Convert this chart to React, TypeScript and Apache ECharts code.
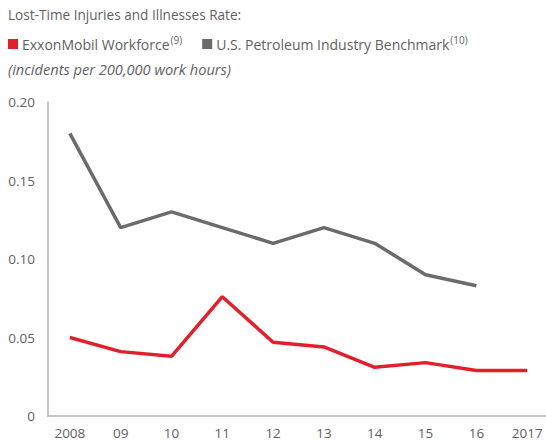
import React, { useEffect, useRef } from "react";
import * as echarts from "echarts";

const years = [2008, 2009, 2010, 2011, 2012, 2013, 2014, 2015, 2016, 2017];
const exxonValues = [0.05, 0.041, 0.038, 0.076, 0.047, 0.044, 0.031, 0.034, 0.029, 0.029];
const benchmarkValues = [0.18, 0.12, 0.13, 0.12, 0.11, 0.12, 0.11, 0.09, 0.083, null];
const yTicks = [0, 0.05, 0.1, 0.15, 0.2];
const seriesNames = ["ExxonMobil Workforce", "U.S. Petroleum Industry Benchmark"];
const seriesNotes = ["(9)", "(10)"];

const FONT = "'Open Sans', 'Noto Sans', sans-serif";
const TEXT = "#5f5f5f";

export default function App() {
  const ref = useRef<HTMLDivElement>(null);
  useEffect(() => {
    if (!ref.current) return;
    const chart = echarts.init(ref.current, null, { renderer: "svg" });
    const pair = (vals: (number | null)[]) =>
      years.map((y, i) => [y, vals[i]]).filter((p) => p[1] !== null);
    chart.setOption({
      animation: false,
      textStyle: { fontFamily: FONT },
      graphic: [
        {
          type: "text",
          left: 8,
          top: 7,
          style: { text: "Lost-Time Injuries and Illnesses Rate:", font: `13.6px ${FONT}`, fill: TEXT },
        },
        {
          type: "text",
          left: 8,
          top: 61,
          style: {
            text: "(incidents per 200,000 work hours)",
            font: `italic 14.6px ${FONT}`,
            fill: TEXT,
          },
        },
      ],
      legend: {
        left: 8,
        top: 35,
        icon: "rect",
        itemWidth: 10,
        itemHeight: 10,
        itemGap: 20,
        padding: 0,
        data: seriesNames,
        formatter: (name: string) => {
          const i = seriesNames.indexOf(name);
          return `{a|${name}}{s|${seriesNotes[i]}}`;
        },
        textStyle: {
          color: TEXT,
          fontFamily: FONT,
          padding: [0, 0, 0, -1],
          rich: {
            a: { fontSize: 14, fontFamily: FONT, color: TEXT },
            s: { fontSize: 10, fontFamily: FONT, color: TEXT, verticalAlign: "top", padding: [0, 0, 8, 1] },
          },
        },
      },
      grid: { left: 48, right: 0, top: 102, bottom: 27, containLabel: false },
      xAxis: {
        type: "value",
        min: 2007.57,
        max: 2017.37,
        axisLine: { show: true, lineStyle: { color: "#b3b3b3", width: 1.5 } },
        axisTick: { show: false },
        splitLine: { show: false },
        axisLabel: {
          customValues: years,
          color: TEXT,
          fontSize: 13.5,
          fontFamily: FONT,
          margin: 10,
          formatter: (v: number) =>
            v === years[0] || v === years[years.length - 1] ? String(v) : String(v % 100).padStart(2, "0"),
        },
      },
      yAxis: {
        type: "value",
        min: yTicks[0],
        max: yTicks[yTicks.length - 1],
        interval: 0.05,
        axisLine: { show: true, lineStyle: { color: "#b3b3b3", width: 1.5 } },
        axisTick: { show: false },
        splitLine: { show: false },
        axisLabel: {
          color: TEXT,
          fontSize: 13.5,
          fontFamily: FONT,
          margin: 13,
          formatter: (v: number) => (v === 0 ? "0" : v.toFixed(2)),
        },
      },
      series: [
        {
          name: seriesNames[0],
          type: "line",
          data: pair(exxonValues),
          showSymbol: false,
          symbol: "none",
          itemStyle: { color: "#e2202c" },
          lineStyle: { color: "#e2202c", width: 3.5 },
        },
        {
          name: seriesNames[1],
          type: "line",
          data: pair(benchmarkValues),
          showSymbol: false,
          symbol: "none",
          itemStyle: { color: "#6b6b6b" },
          lineStyle: { color: "#6b6b6b", width: 3.5 },
        },
      ],
    });
    return () => chart.dispose();
  }, []);
  return (
    <div
      ref={ref}
      style={{ position: "fixed", left: 0, top: 0, width: 546, height: 443, background: "#fff" }}
    />
  );
}
